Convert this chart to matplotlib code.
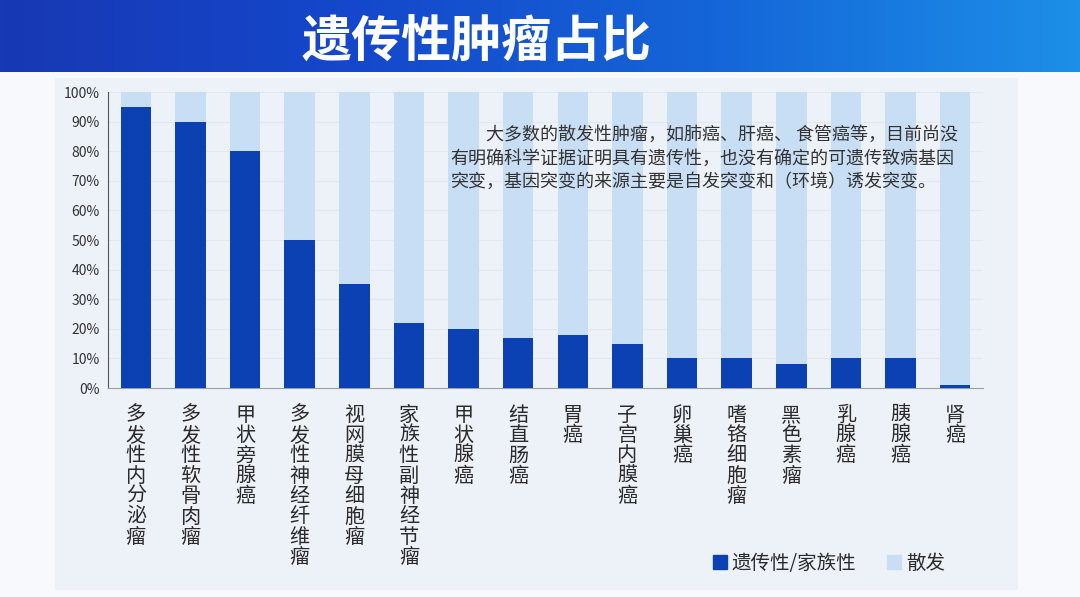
import numpy as np
import matplotlib
matplotlib.use("Agg")
import matplotlib.pyplot as plt
from matplotlib.patches import Patch, Rectangle

plt.rcParams['font.family'] = ['Noto Sans CJK SC', 'DejaVu Sans']

# 数据
categories = ['多发性内分泌瘤', '多发性软骨肉瘤', '甲状旁腺癌', '多发性神经纤维瘤',
              '视网膜母细胞瘤', '家族性副神经节瘤', '甲状腺癌', '结直肠癌', '胃癌',
              '子宫内膜癌', '卵巢癌', '嗜铬细胞瘤', '黑色素瘤', '乳腺癌', '胰腺癌', '肾癌']
hereditary = [95, 90, 80, 50, 35, 22, 20, 17, 18, 15, 10, 10, 8, 10, 10, 1]
sporadic = [100 - v for v in hereditary]
yticks = [0, 10, 20, 30, 40, 50, 60, 70, 80, 90, 100]

title = '遗传性肿瘤占比'
note = ('\u3000\u3000大多数的散发性肿瘤，如肺癌、肝癌、 食管癌等，目前尚没\n'
        '有明确科学证据证明具有遗传性，也没有确定的可遗传致病基因\n'
        '突变，基因突变的来源主要是自发突变和（环境）诱发突变。')
legend_labels = ['遗传性/家族性', '散发']

dark = '#0b41b3'
light = '#c8def5'
panel = '#edf1f8'

fig = plt.figure(figsize=(10.8, 5.97), dpi=100)
fig.patch.set_facecolor('#f7f9fc')

# 背景面板
fig.patches.append(Rectangle((55 / 1080, 7 / 597), 963 / 1080, 512 / 597,
                             transform=fig.transFigure, facecolor=panel,
                             edgecolor='none', zorder=-5))

# 顶部横幅
ban = fig.add_axes([0, 1 - 72 / 597, 1, 72 / 597])
grad = np.linspace(0, 1, 256).reshape(1, -1)
cmap = matplotlib.colors.LinearSegmentedColormap.from_list(
    'ban', ['#1838b4', '#1448cc', '#1566d8', '#1c8fe8'])
ban.imshow(grad, aspect='auto', cmap=cmap, extent=[0, 1, 0, 1])
ban.axis('off')
ban.text(302 / 1080, 0.4, title, color='white', fontsize=36, fontweight='bold',
         va='center', ha='left', transform=ban.transAxes)

# 主图
ax = fig.add_axes([108 / 1080, 1 - 388 / 597, 875 / 1080, 296 / 597])
ax.set_zorder(2)
ax.set_facecolor(panel)
x = np.arange(len(categories))
ax.bar(x, hereditary, width=0.56, color=dark, zorder=3)
ax.bar(x, sporadic, bottom=hereditary, width=0.56, color=light, zorder=3)

ax.set_xlim(-0.51, 15.51)
ax.set_ylim(0, 100)
ax.set_yticks(yticks)
ax.set_yticklabels([f'{v}%' for v in yticks], fontsize=10, color='#333333')
ax.yaxis.grid(True, color='#e2e7f0', lw=0.8, zorder=0)
ax.set_axisbelow(True)
ax.set_xticks(x)
ax.set_xticklabels(['\n'.join(c) for c in categories], fontsize=14.5,
                   color='#2b2b2b', linespacing=0.96, va='top')
ax.tick_params(length=0, pad=6)
ax.tick_params(axis='x', pad=12)
for s in ['top', 'right']:
    ax.spines[s].set_visible(False)
ax.spines['left'].set_color('#555555')
ax.spines['bottom'].set_color('#9aa0a8')

fig.text(450 / 1080, 1 - 126 / 597, note, fontsize=13, color='#333333',
         va='top', ha='left', linespacing=1.4, zorder=5)

handles = [Patch(color=dark), Patch(color=light)]
fig.legend(handles, legend_labels, loc='center', bbox_to_anchor=(829 / 1080, 1 - 563 / 597),
           ncol=2, frameon=False, fontsize=14, handlelength=0.7, handleheight=0.7,
           handletextpad=0.25, columnspacing=1.6, labelcolor='#2b2b2b')

fig.savefig('out.png', dpi=100, facecolor=fig.get_facecolor())
